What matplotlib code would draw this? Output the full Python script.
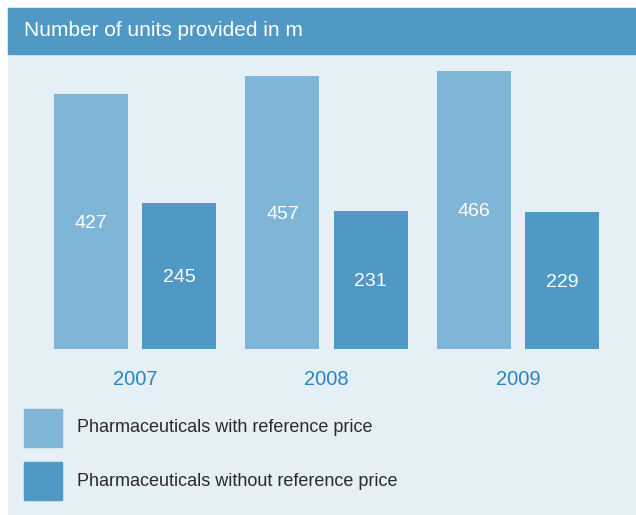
import numpy as np
import matplotlib.pyplot as plt
from matplotlib.patches import Rectangle

years = ['2007', '2008', '2009']
with_ref = [427, 457, 466]
without_ref = [245, 231, 229]
labels = ['Pharmaceuticals with reference price',
          'Pharmaceuticals without reference price']
title = 'Number of units provided in m'

light = '#7fb5d6'
dark = '#4f99c4'
panel = '#e4eff6'
year_col = '#2a86c0'

plt.rcParams['font.family'] = ['Liberation Sans', 'DejaVu Sans']

W, H = 636, 515
fig = plt.figure(figsize=(W / 100, H / 100), dpi=100)
fig.patch.set_facecolor('white')

def px(x0, y0, x1, y1):
    # pixel box (top-left origin) -> figure fraction rect
    return [x0 / W, 1 - y1 / H, (x1 - x0) / W, (y1 - y0) / H]

# background panel + header
fig.add_artist(Rectangle((8 / W, 0), 1 - 8 / W, 1 - 8 / H,
                         transform=fig.transFigure, color=panel, zorder=0))
fig.add_artist(Rectangle((8 / W, 1 - 54 / H), 1 - 8 / W, 46 / H,
                         transform=fig.transFigure, color=dark, zorder=1))
fig.text(24 / W, 1 - 31 / H, title, color='white', fontsize=15,
         va='center', ha='left')

# bar area
ax = fig.add_axes(px(8, 54, 636, 349))
ax.set_facecolor('none')
x = np.arange(len(years))
gap = 0.2298
w = 0.3864
b1 = ax.bar(x - gap, with_ref, width=w, color=light)
b2 = ax.bar(x + gap, without_ref, width=w, color=dark)
ax.set_xlim((8 - 135) / 191.5, (636 - 135) / 191.5)
ax.set_ylim(0, (349 - 54) / 0.597)
for bars in (b1, b2):
    for r in bars:
        ax.text(r.get_x() + r.get_width() / 2, r.get_height() / 2 - 3,
                str(int(r.get_height())), ha='center', va='center',
                color='white', fontsize=14)
ax.set_xticks(x)
ax.set_xticklabels(years, color=year_col, fontsize=14.5)
ax.tick_params(axis='x', length=0, pad=15)
ax.set_yticks([])
for s in ax.spines.values():
    s.set_visible(False)

# legend
for i, (lab, c) in enumerate(zip(labels, [light, dark])):
    y0 = 409 + i * 53
    fig.add_artist(Rectangle((24 / W, 1 - (y0 + 38) / H), 38 / W, 38 / H,
                             transform=fig.transFigure, color=c, zorder=2))
    fig.text(77 / W, 1 - (y0 + 19) / H, lab, color='#2a2a2a',
             fontsize=13, va='center', ha='left')

fig.savefig('out.png', dpi=100)
